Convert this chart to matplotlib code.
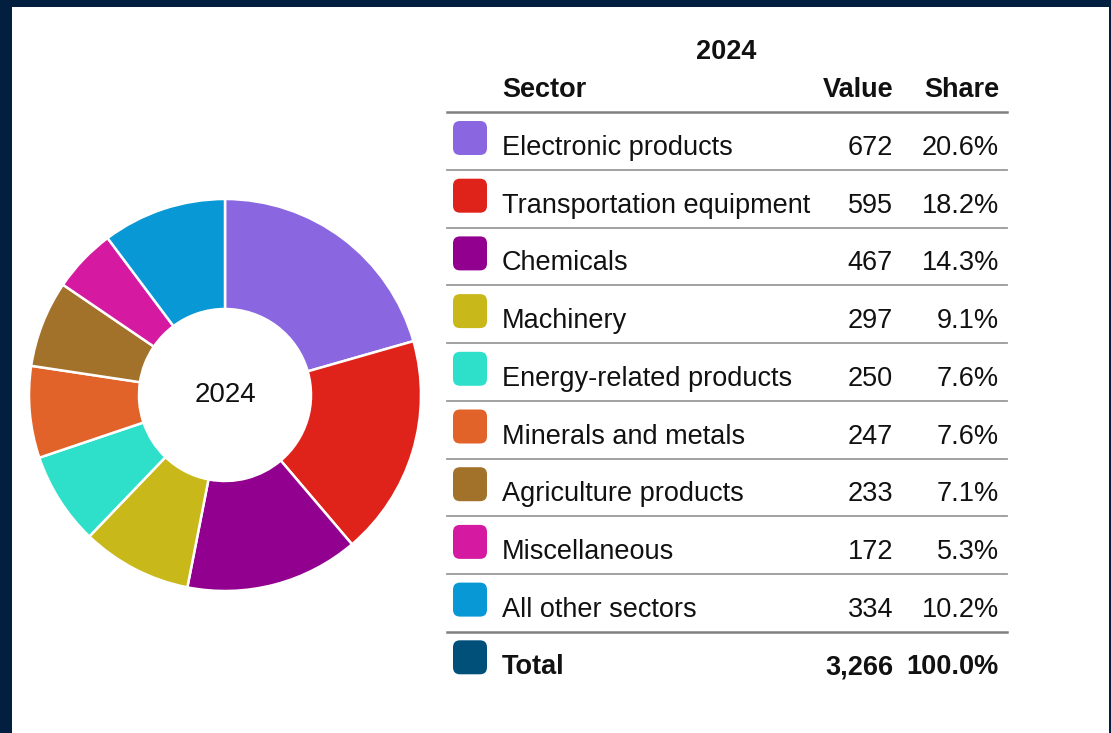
import matplotlib
matplotlib.use("Agg")
import matplotlib.pyplot as plt
from matplotlib.patches import Rectangle, FancyBboxPatch

plt.rcParams['font.family'] = ['Liberation Sans', 'DejaVu Sans']

year = "2024"
sectors = ["Electronic products", "Transportation equipment", "Chemicals",
           "Machinery", "Energy-related products", "Minerals and metals",
           "Agriculture products", "Miscellaneous", "All other sectors"]
values = [672, 595, 467, 297, 250, 247, 233, 172, 334]
shares = ["20.6%", "18.2%", "14.3%", "9.1%", "7.6%", "7.6%", "7.1%", "5.3%", "10.2%"]
total_value = "3,266"
total_share = "100.0%"
colors = ["#8a67e0", "#e0231a", "#920090", "#c9b819", "#2ee0c9",
          "#e2632a", "#a2722a", "#d51aa1", "#0898d6"]
total_color = "#00507a"

W, H = 1111, 733
fig = plt.figure(figsize=(W / 100, H / 100), dpi=100)
fig.patch.set_facecolor("#021f40")

# full-figure overlay in pixel units (y measured from top)
bg = fig.add_axes([0, 0, 1, 1])
bg.set_xlim(0, W)
bg.set_ylim(0, H)
bg.axis("off")
bg.add_patch(Rectangle((12, 0), W - 14, H - 7, facecolor="white", edgecolor="none"))


def yy(y):
    return H - y


fs = 19.5
txt = "#111111"


def cell(x, y, s, ha="left", bold=False):
    bg.text(x, yy(y), s, ha=ha, va="baseline", fontsize=fs,
            fontweight="bold" if bold else "normal", color=txt)


# table header
bg.text(726, yy(59), year, ha="center", va="baseline", fontsize=fs, fontweight="bold", color=txt)
cell(502, 97, "Sector", bold=True)
cell(893, 97, "Value", ha="right", bold=True)
cell(999, 97, "Share", ha="right", bold=True)
bg.plot([447, 1007], [yy(112), yy(112)], color="#808080", lw=1.8)

base0, step = 155, 57.7


def swatch(cy, color):
    s, pad = 34, 3
    bg.add_patch(FancyBboxPatch((453 + pad, yy(cy) - s / 2 + pad), s - 2 * pad, s - 2 * pad,
                                boxstyle=f"round,pad={pad},rounding_size=7",
                                facecolor=color, edgecolor="none"))


for i, (name, v, sh, c) in enumerate(zip(sectors, values, shares, colors)):
    b = base0 + step * i
    swatch(b - 17, c)
    cell(502, b, name)
    cell(893, b, f"{v:,}", ha="right")
    cell(999, b, sh, ha="right")
    ly = b + 15
    last = i == len(sectors) - 1
    bg.plot([447, 1007], [yy(ly), yy(ly)], color="#808080" if last else "#9a9a9a",
            lw=1.8 if last else 1.3)

b = base0 + step * len(sectors)
swatch(b - 17, total_color)
cell(502, b, "Total", bold=True)
cell(893, b, total_value, ha="right", bold=True)
cell(999, b, total_share, ha="right", bold=True)

# donut
cx, cyp, r = 225, 395, 196
half = 205
ax = fig.add_axes([(cx - half) / W, (H - cyp - half) / H, 2 * half / W, 2 * half / H])
ax.pie(values, colors=colors, startangle=90, counterclock=False, radius=1,
       wedgeprops=dict(width=1 - 86 / r, edgecolor="white", linewidth=1.8))
lim = half / r
ax.set_xlim(-lim, lim)
ax.set_ylim(-lim, lim)
ax.set_aspect("equal")
ax.axis("off")
ax.text(0, 0, year, ha="center", va="center", fontsize=20, color=txt)

fig.savefig("out.png", dpi=100, facecolor=fig.get_facecolor())
